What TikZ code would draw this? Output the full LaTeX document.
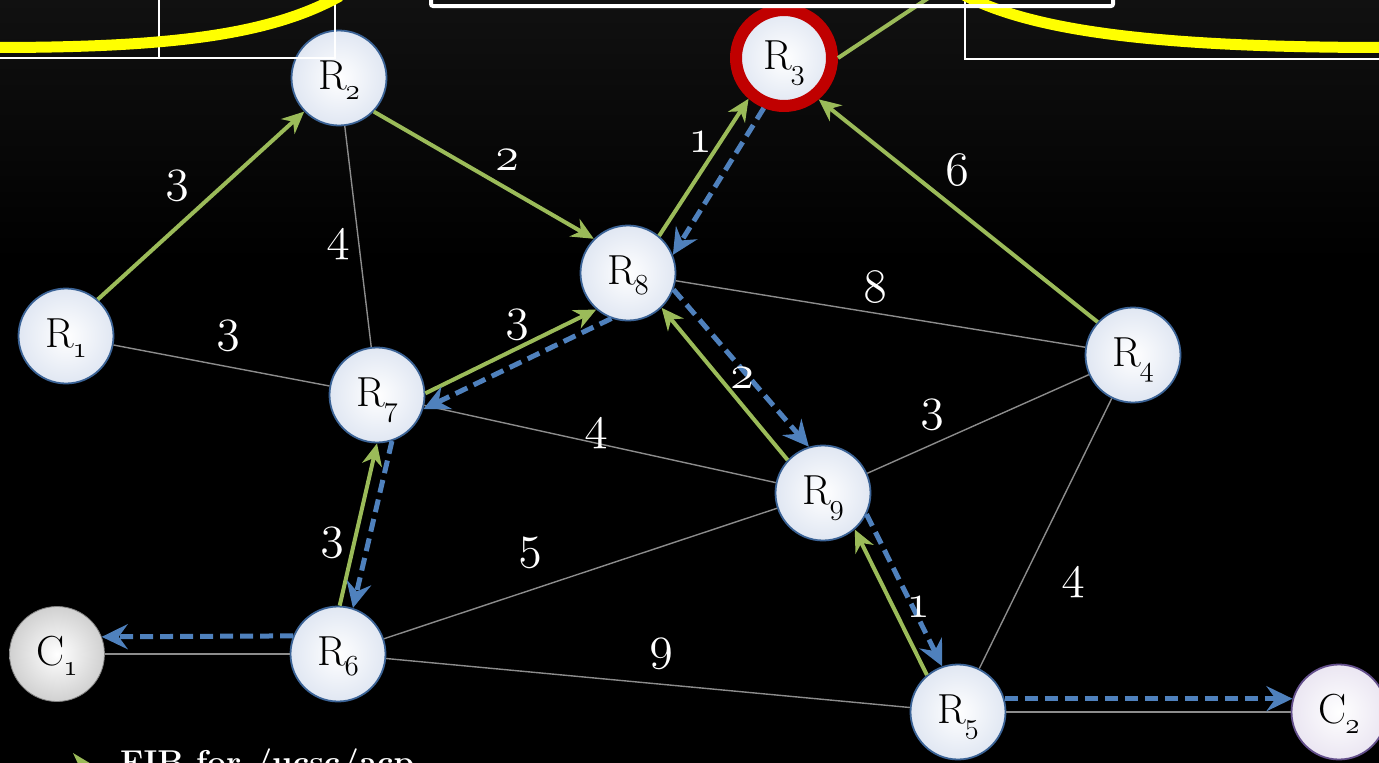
\documentclass[tikz,border=0pt]{standalone}
\usepackage{fix-cm}
\usetikzlibrary{arrows.meta}
\definecolor{gr}{HTML}{9BBB59}
\definecolor{bl}{HTML}{4F81BD}
\definecolor{nodeblue}{HTML}{C2CFE6}
\definecolor{nodeborder}{HTML}{3B6396}
\definecolor{ringred}{HTML}{C00000}
\definecolor{edgegray}{HTML}{8C8C8C}
\definecolor{hl}{HTML}{FFFF00}
\definecolor{cgray}{HTML}{A2A2A2}
\definecolor{cpurp}{HTML}{D6CDE5}
\definecolor{cpurpb}{HTML}{64508C}
\definecolor{bgtop}{HTML}{111111}
\pgfdeclareradialshading{rball}{\pgfpoint{0bp}{0bp}}{color(0bp)=(white); color(50bp)=(nodeblue)}
\pgfdeclareradialshading{gball}{\pgfpoint{0bp}{0bp}}{color(0bp)=(white); color(50bp)=(cgray)}
\pgfdeclareradialshading{pball}{\pgfpoint{0bp}{0bp}}{color(0bp)=(white); color(50bp)=(cpurp)}
\newcommand\osf{\usefont{OML}{cmm}{m}{it}}
\newcommand\nsub[2]{#1\kern-1pt\raisebox{-10pt}{\fontsize{29}{29}\osf #2}}
\tikzset{
  router/.style={circle, minimum size=95pt, inner sep=0pt, draw=nodeborder, line width=1.8pt,
    shade, shading=rball, font=\fontsize{42}{42}\selectfont, text height=28pt, text depth=5pt},
  garrow/.style={draw=gr, line width=4pt, -{Stealth[length=22pt, width=20pt, inset=7pt]}},
  barrow/.style={draw=bl, line width=5pt, dash pattern=on 13pt off 7pt, -{Stealth[length=26pt, width=25pt, inset=9pt]}},
  link/.style={draw=edgegray, line width=1.4pt},
  lbl/.style={text=white, inner sep=0pt, font=\fontsize{48}{48}\osf},
  frame/.style={draw=white, line width=2pt},
  hlcurve/.style={draw=hl, line width=11pt}
}
\begin{document}
\begin{tikzpicture}[x=1pt,y=-1pt]
\useasboundingbox (0,0) rectangle (1379,763);
\begin{scope}
\clip (0,0) rectangle (1379,763);
\fill[black] (0,0) rectangle (1379,763);
\shade[top color=bgtop, bottom color=black] (0,0) rectangle (1379,260);

% nodes
\node[router] (R1) at (66,336) {\nsub{R}{1}};
\node[router] (R2) at (339,78) {\nsub{R}{2}};
\node[router, draw=ringred, line width=12pt, minimum size=96pt] (R3) at (784,58) {\nsub{R}{3}};
\node[router] (R4) at (1133,355) {\nsub{R}{4}};
\node[router] (R5) at (958,712) {\nsub{R}{5}};
\node[router] (R6) at (338,654) {\nsub{R}{6}};
\node[router] (R7) at (377,395) {\nsub{R}{7}};
\node[router] (R8) at (628,273) {\nsub{R}{8}};
\node[router] (R9) at (823,493) {\nsub{R}{9}};
\node[router, shading=gball, draw=cgray!80!black, line width=0.8pt] (C1) at (57,654) {\nsub{C}{1}};
\node[router, shading=pball, draw=cpurpb] (C2) at (1339,712) {\nsub{C}{2}};

% plain links
\draw[link] (R1) -- (R7);
\draw[link] (R2) -- (R7);
\draw[link] (R7) -- (R9);
\draw[link] (R6) -- (R9);
\draw[link] (R6) -- (R5);
\draw[link] (R8) -- (R4);
\draw[link] (R9) -- (R4);
\draw[link] (R4) -- (R5);
\draw[link] (C1) -- (R6);
\draw[link] (R5) -- (C2);

% green (interest) arrows
\draw[garrow] (R1.49) -- (R2.224);
\draw[garrow] (R2.-44) -- (R8.135);
\draw[garrow] (R8.50) -- (R3.229);
\draw[garrow] (R4.137) -- (R3.-50);
\draw[garrow] (R7.2) -- (R8.229);
\draw[garrow] (R9.137) -- (R8.-46);
\draw[garrow] (R6.88) -- (R7.270);
\draw[garrow] (R5.130) -- (R9.-49);
\coordinate (up) at (930,-3);
\draw[draw=gr, line width=4pt] (R3.0) -- (up);

% blue (data) arrows
\draw[barrow] (R3.248) -- (R8.22);
\draw[barrow] (R8.250) -- (R7.-17);
\draw[barrow] (R8.-20) -- (R9.107);
\draw[barrow] (R7.-72) -- (R6.72);
\draw[barrow] (R9.-26) -- (R5.109);
\draw[barrow] (R6.158) -- (C1.21.5);
\draw[barrow] (R5.16) -- (C2.164);

% edge costs
\node[lbl] (c12) at (177,186) {3};
\node[lbl] (c28) at (507,160) {2};
\node[lbl] (c27) at (338,245) {4};
\node[lbl] (c17) at (228,336) {3};
\node[lbl] (c83) at (700,142) {1};
\node[lbl] (c43) at (957,170) {6};
\node[lbl] (c84) at (875,287) {8};
\node[lbl] (c78) at (517,325) {3};
\node[lbl] (c89) at (742,378) {2};
\node[lbl] (c79) at (596,434) {4};
\node[lbl] (c94) at (932,415) {3};
\node[lbl] (c67) at (332,543) {3};
\node[lbl] (c69) at (530,553) {5};
\node[lbl] (c65) at (661,654) {9};
\node[lbl] (c95) at (918,607) {1};
\node[lbl] (c45) at (1073,583) {4};

% top decorations
\draw[frame] (-2,58) -- (335,58) -- (335,-2);
\draw[frame] (159,-2) -- (159,58);
\draw[hlcurve] (-5,47.5) .. controls (170,47.5) and (270,35) .. (340,-4);
\draw[frame] (965,-2) -- (965,59) -- (1381,59);
\draw[hlcurve] (962,-6) .. controls (1030,30) and (1150,47.5) .. (1385,47.5);
\draw[draw=white, line width=4pt, rounded corners=2pt] (431,-10) rectangle (1113,6);

% legend (cut off at the lower edge, as in the reference)
\fill[gr] (73,753) -- (98,768) -- (73,783) -- (80,768) -- cycle;
\node[anchor=base west, text=white, inner sep=0pt, font=\fontsize{33}{33}\selectfont\bfseries] (fib) at (120,773) {FIB for /ucsc/acp};
\end{scope}
\end{tikzpicture}
\end{document}
